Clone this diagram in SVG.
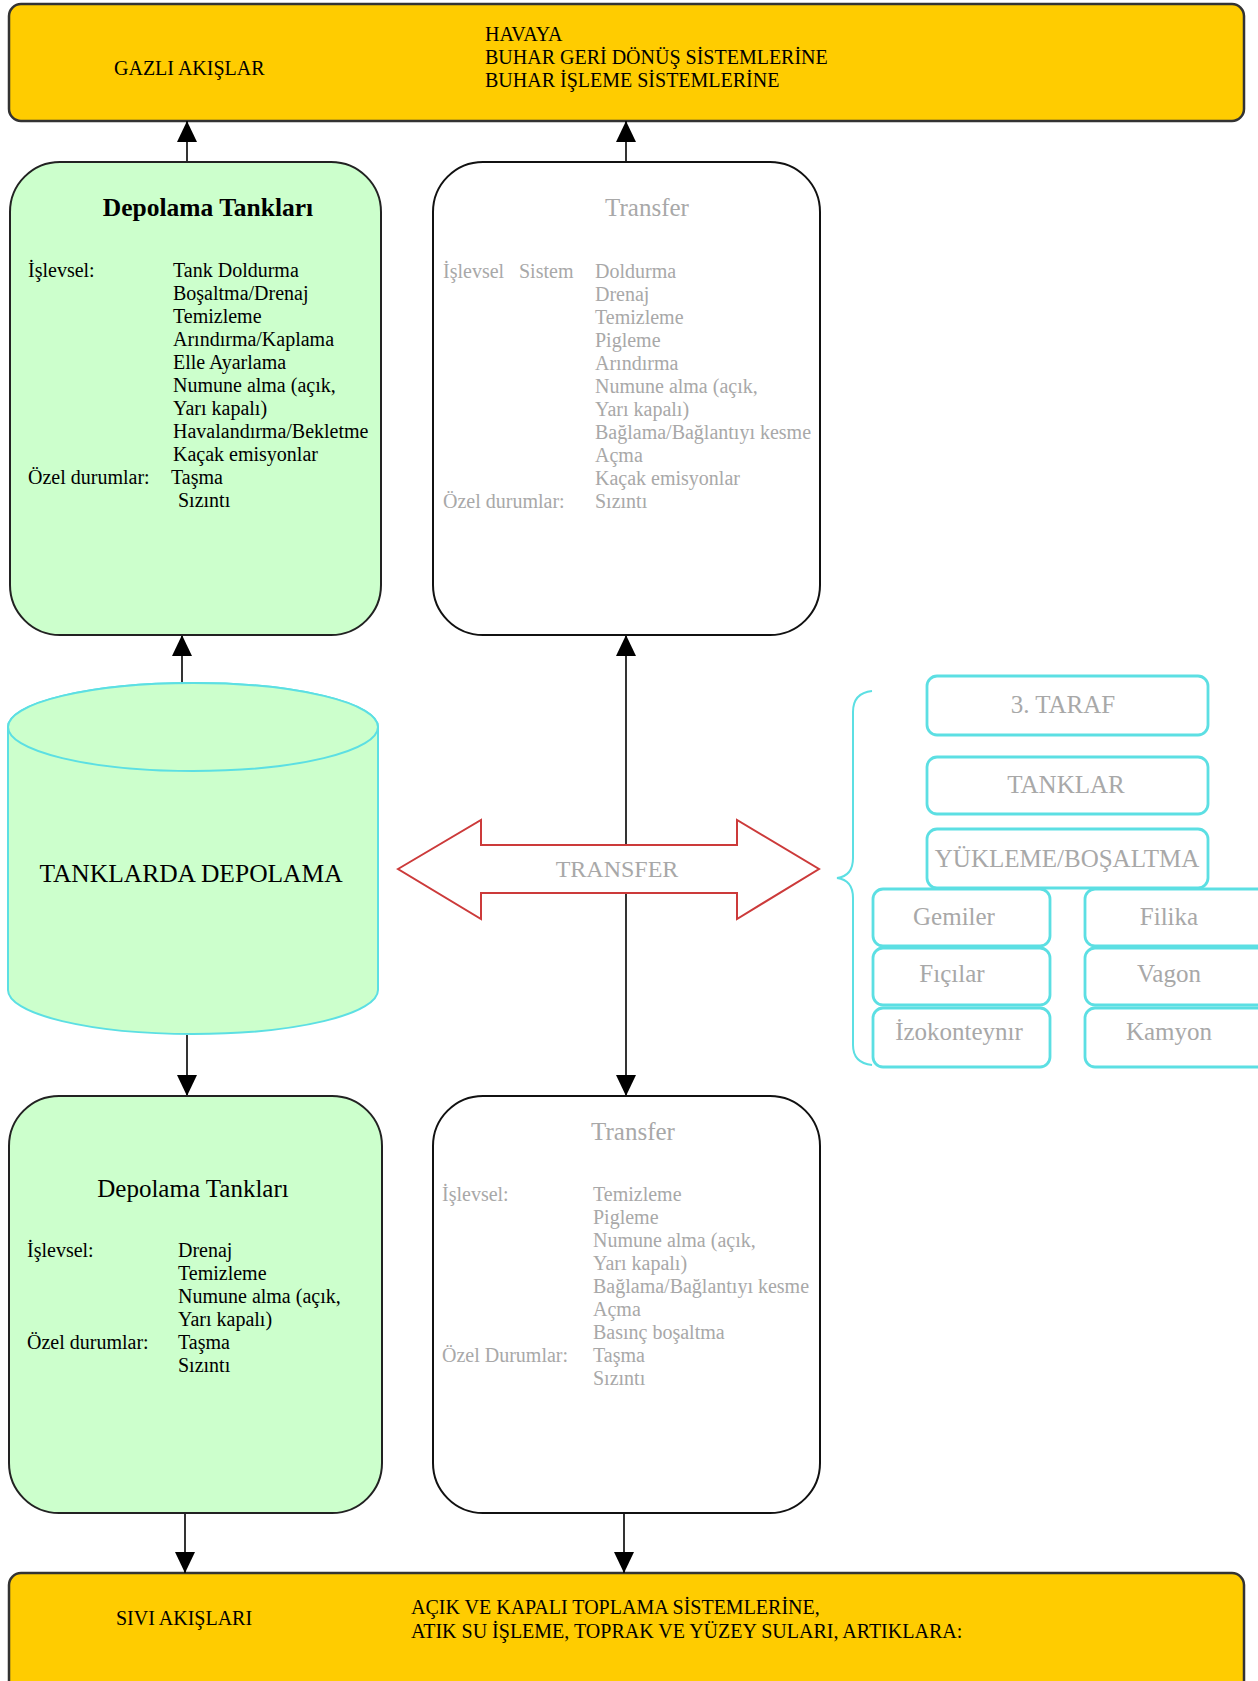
<svg xmlns="http://www.w3.org/2000/svg" width="1258" height="1681" viewBox="0 0 1258 1681">
<style>
text{font-family:"Liberation Serif","Times New Roman",serif;fill:#000}
.t20{font-size:20px}
.g{fill:#a8a8a8}
.bar{fill:#ffcc00;stroke:#333;stroke-width:2.5}
.green{fill:#ccffcc;stroke:#222;stroke-width:2}
.white{fill:#fff;stroke:#111;stroke-width:2}
.cy{fill:#fff;stroke:#5cdfe3;stroke-width:2.8}
.conn{stroke:#000;stroke-width:1.6;fill:none;marker-end:url(#ah)}
.mid{text-anchor:middle}
</style>
<defs>
<marker id="ah" markerUnits="userSpaceOnUse" markerWidth="20" markerHeight="22" refX="21" refY="10" orient="auto">
<path d="M0,0 L21,10 L0,20 z" fill="#000"/>
</marker>
</defs>

<g id="gazli">
<rect class="bar" x="9" y="4" width="1235" height="117" rx="12"/>
<text class="t20" x="114" y="75">GAZLI AKIŞLAR</text>
<text class="t20" x="485" y="41">HAVAYA</text>
<text class="t20" x="485" y="64">BUHAR GERİ DÖNÜŞ SİSTEMLERİNE</text>
<text class="t20" x="485" y="87">BUHAR İŞLEME SİSTEMLERİNE</text>
</g>

<g id="sivi">
<rect class="bar" x="9" y="1573" width="1235" height="125" rx="12"/>
<text class="t20" x="116" y="1625">SIVI AKIŞLARI</text>
<text class="t20" x="411" y="1614">AÇIK VE KAPALI TOPLAMA SİSTEMLERİNE,</text>
<text class="t20" x="411" y="1638">ATIK SU İŞLEME, TOPRAK VE YÜZEY SULARI, ARTIKLARA:</text>
</g>

<g id="connectors">
<line class="conn" x1="187" y1="162" x2="187" y2="121"/>
<line class="conn" x1="626" y1="162" x2="626" y2="121"/>
<line class="conn" x1="182" y1="684" x2="182" y2="635"/>
<line class="conn" x1="187" y1="1035" x2="187" y2="1096"/>
<line class="conn" x1="626" y1="850" x2="626" y2="635"/>
<line class="conn" x1="626" y1="890" x2="626" y2="1096"/>
<line class="conn" x1="185" y1="1513" x2="185" y2="1573"/>
<line class="conn" x1="624" y1="1513" x2="624" y2="1573"/>
</g>

<g id="depolama1">
<rect class="green" x="10" y="162" width="371" height="473" rx="50"/>
<text class="mid" x="208" y="216" style="font-size:25.5px;font-weight:bold">Depolama Tankları</text>
<g class="t20">
<text x="28" y="277">İşlevsel:</text>
<text x="173" y="277">Tank Doldurma</text>
<text x="173" y="300">Boşaltma/Drenaj</text>
<text x="173" y="323">Temizleme</text>
<text x="173" y="346">Arındırma/Kaplama</text>
<text x="173" y="369">Elle Ayarlama</text>
<text x="173" y="392">Numune alma (açık,</text>
<text x="173" y="415">Yarı kapalı)</text>
<text x="173" y="438">Havalandırma/Bekletme</text>
<text x="173" y="461">Kaçak emisyonlar</text>
<text x="28" y="484">Özel durumlar:</text>
<text x="171" y="484">Taşma</text>
<text x="178" y="507">Sızıntı</text>
</g>
</g>

<g id="transfer1">
<rect class="white" x="433" y="162" width="387" height="473" rx="50"/>
<text class="mid g" x="647" y="216" style="font-size:25px">Transfer</text>
<g class="t20">
<text class="g" x="443" y="278">İşlevsel</text>
<text class="g" x="519" y="278">Sistem</text>
<text class="g" x="595" y="278">Doldurma</text>
<text class="g" x="595" y="301">Drenaj</text>
<text class="g" x="595" y="324">Temizleme</text>
<text class="g" x="595" y="347">Pigleme</text>
<text class="g" x="595" y="370">Arındırma</text>
<text class="g" x="595" y="393">Numune alma (açık,</text>
<text class="g" x="595" y="416">Yarı kapalı)</text>
<text class="g" x="595" y="439">Bağlama/Bağlantıyı kesme</text>
<text class="g" x="595" y="462">Açma</text>
<text class="g" x="595" y="485">Kaçak emisyonlar</text>
<text class="g" x="443" y="508">Özel durumlar:</text>
<text class="g" x="595" y="508">Sızıntı</text>
</g>
</g>

<g id="tanklarda-depolama">
<path d="M8,727 L8,990 A185,44 0 0 0 378,990 L378,727 A185,44 0 0 0 8,727 Z" fill="#ccffcc" stroke="#5cdfe3" stroke-width="2"/>
<ellipse cx="193" cy="727" rx="185" ry="44" fill="#ccffcc" stroke="#5cdfe3" stroke-width="2"/>
<text class="mid" x="191" y="882" style="font-size:25.5px">TANKLARDA DEPOLAMA</text>
</g>

<g id="transfer-arrow">
<polygon points="398,869 481,820 481,845 737,845 737,820 819,869 737,919 737,893 481,893 481,919" fill="#fff" stroke="#cc3a3a" stroke-width="2"/>
<text class="mid g" x="617" y="877" style="font-size:24px">TRANSFER</text>
</g>

<g id="depolama2">
<rect class="green" x="9" y="1096" width="373" height="417" rx="50"/>
<text class="mid" x="193" y="1197" style="font-size:25px">Depolama Tankları</text>
<g class="t20">
<text x="27" y="1257">İşlevsel:</text>
<text x="178" y="1257">Drenaj</text>
<text x="178" y="1280">Temizleme</text>
<text x="178" y="1303">Numune alma (açık,</text>
<text x="178" y="1326">Yarı kapalı)</text>
<text x="27" y="1349">Özel durumlar:</text>
<text x="178" y="1349">Taşma</text>
<text x="178" y="1372">Sızıntı</text>
</g>
</g>

<g id="transfer2">
<rect class="white" x="433" y="1096" width="387" height="417" rx="50"/>
<text class="mid g" x="633" y="1140" style="font-size:25px">Transfer</text>
<g class="t20">
<text class="g" x="442" y="1201">İşlevsel:</text>
<text class="g" x="593" y="1201">Temizleme</text>
<text class="g" x="593" y="1224">Pigleme</text>
<text class="g" x="593" y="1247">Numune alma (açık,</text>
<text class="g" x="593" y="1270">Yarı kapalı)</text>
<text class="g" x="593" y="1293">Bağlama/Bağlantıyı kesme</text>
<text class="g" x="593" y="1316">Açma</text>
<text class="g" x="593" y="1339">Basınç boşaltma</text>
<text class="g" x="442" y="1362">Özel Durumlar:</text>
<text class="g" x="593" y="1362">Taşma</text>
<text class="g" x="593" y="1385">Sızıntı</text>
</g>
</g>

<g id="brace">
<path d="M872,691 Q853,693 853,712 L853,858 Q853,876 837,878 Q853,880 853,898 L853,1045 Q853,1063 872,1065" fill="none" stroke="#5cdfe3" stroke-width="2"/>
</g>

<g id="taraf"><rect class="cy" x="927" y="676" width="281" height="59" rx="10"/><text class="mid g" x="1063" y="713" style="font-size:25px">3. TARAF</text></g>
<g id="tanklar"><rect class="cy" x="927" y="757" width="281" height="57" rx="10"/><text class="mid g" x="1066" y="793" style="font-size:25px">TANKLAR</text></g>
<g id="yukleme"><rect class="cy" x="927" y="829" width="281" height="59" rx="10"/><text class="mid g" x="1067" y="867" style="font-size:25px">YÜKLEME/BOŞALTMA</text></g>
<g id="gemiler"><rect class="cy" x="873" y="889" width="177" height="57" rx="10"/><text class="mid g" x="954" y="925" style="font-size:25px">Gemiler</text></g>
<g id="ficilar"><rect class="cy" x="873" y="948" width="177" height="57" rx="10"/><text class="mid g" x="952" y="982" style="font-size:25px">Fıçılar</text></g>
<g id="izokonteynir"><rect class="cy" x="873" y="1008" width="177" height="59" rx="10"/><text class="mid g" x="959" y="1040" style="font-size:25px">İzokonteynır</text></g>
<g id="filika"><rect class="cy" x="1085" y="889" width="200" height="57" rx="10"/><text class="mid g" x="1169" y="925" style="font-size:25px">Filika</text></g>
<g id="vagon"><rect class="cy" x="1085" y="948" width="200" height="57" rx="10"/><text class="mid g" x="1169" y="982" style="font-size:25px">Vagon</text></g>
<g id="kamyon"><rect class="cy" x="1085" y="1008" width="200" height="59" rx="10"/><text class="mid g" x="1169" y="1040" style="font-size:25px">Kamyon</text></g>
</svg>
